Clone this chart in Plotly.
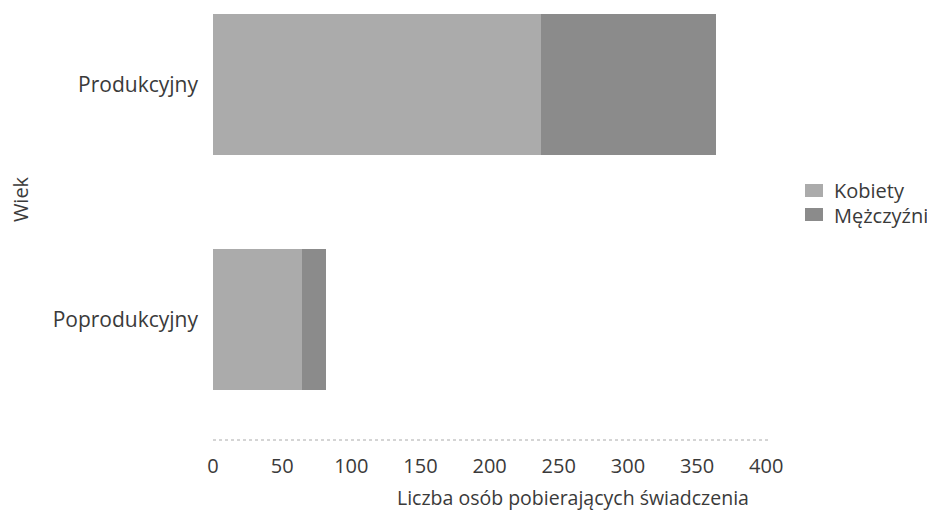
import plotly.graph_objects as go

categories = ["Poprodukcyjny", "Produkcyjny"]
kobiety = [64, 237]
mezczyzni = [18, 127]
x_ticks = [0, 50, 100, 150, 200, 250, 300, 350, 400]
series_names = ["Kobiety", "Mężczyźni"]
series_colors = ["#ababab", "#8b8b8b"]
x_title = "Liczba osób pobierających świadczenia"
y_title = "Wiek"

font_family = "Open Sans"
text_color = "#3a3a3a"

fig = go.Figure()
for name, vals, col in zip(series_names, [kobiety, mezczyzni], series_colors):
    fig.add_trace(go.Bar(
        y=categories, x=vals, name=name, orientation="h", showlegend=False,
        marker=dict(color=col, line=dict(width=0)),
    ))

shapes = [dict(
    type="line", xref="paper", yref="paper", x0=0, x1=1, y0=0, y1=0,
    line=dict(color="#aaaaaa", width=1, dash="dot"),
)]
annotations = []

# manual legend
legend_rows = [(0.5625, 0.5926, 0.5764), (0.5069, 0.5370, 0.5208)]
for (y0, y1, yt), name, col in zip(legend_rows, series_names, series_colors):
    shapes.append(dict(type="rect", xref="paper", yref="paper",
                       x0=1.0647, x1=1.0971, y0=y0, y1=y1,
                       fillcolor=col, line=dict(width=0)))
    annotations.append(dict(text=name, xref="paper", yref="paper",
                            x=1.1133, y=yt, xanchor="left", yanchor="middle",
                            showarrow=False, font=dict(size=20, color=text_color)))

# axis titles
annotations.append(dict(text=x_title, xref="paper", yref="paper",
                        x=0.6475, y=-0.132, xanchor="center", yanchor="middle",
                        showarrow=False, font=dict(size=19.5, color=text_color)))
annotations.append(dict(text=y_title, xref="paper", yref="paper", textangle=-90,
                        x=-0.345, y=0.558, xanchor="center", yanchor="middle",
                        showarrow=False, borderpad=0,
                        font=dict(size=20, color=text_color)))

fig.update_layout(
    width=935, height=515,
    barmode="stack", bargap=0.4,
    paper_bgcolor="white", plot_bgcolor="white",
    margin=dict(l=205, r=174, t=0, b=83, autoexpand=False),
    font=dict(family=font_family, size=20, color=text_color),
    showlegend=False,
    xaxis=dict(
        range=[0, 402], tickvals=x_ticks, showgrid=False, zeroline=False,
        showline=False, ticks="", ticklabelstandoff=12,
        tickfont=dict(size=20, color=text_color),
    ),
    yaxis=dict(
        range=[-0.511, 1.327], showgrid=False, zeroline=False, showline=False,
        ticks="", ticklabelstandoff=14,
        tickfont=dict(size=21, color=text_color),
    ),
    shapes=shapes,
    annotations=annotations,
)

fig.write_html("out.html")
